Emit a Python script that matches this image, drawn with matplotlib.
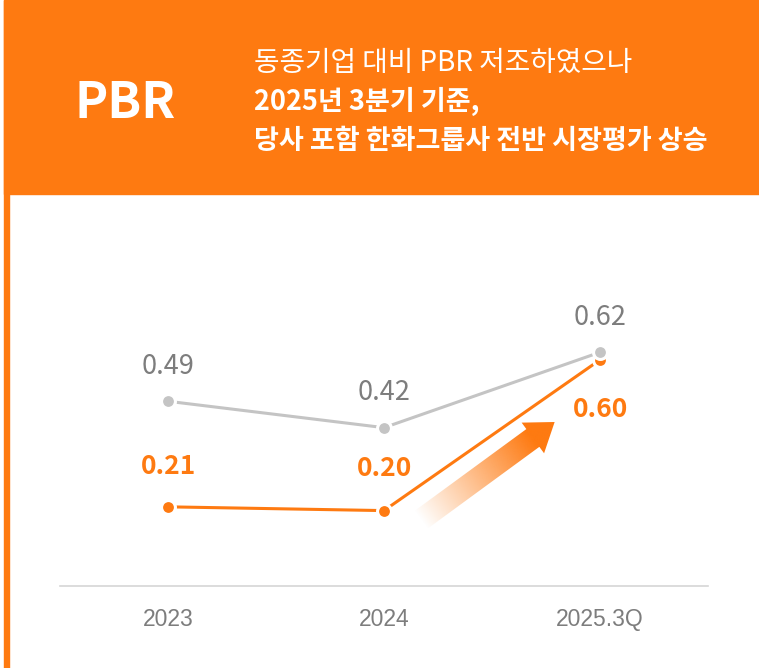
import numpy as np
import matplotlib
matplotlib.use("Agg")
import matplotlib.pyplot as plt
from matplotlib.patches import Rectangle, Polygon
from matplotlib.transforms import IdentityTransform

plt.rcParams['font.family'] = ['Noto Sans CJK KR', 'DejaVu Sans']

# 데이터
categories = ['2023', '2024', '2025.3Q']
peer_pbr = [0.49, 0.42, 0.62]      # 동종기업 (회색)
company_pbr = [0.21, 0.20, 0.60]   # 당사 (주황)

title_big = 'PBR'
subtitle_lines = ['동종기업 대비 PBR 저조하였으나',
                  '2025년 3분기 기준,',
                  '당사 포함 한화그룹사 전반 시장평가 상승']

ORANGE = '#fe7a11'
GRAY = '#c4c4c4'
GRAY_TXT = '#7d7d7d'

W, H = 759, 668
fig = plt.figure(figsize=(W / 100, H / 100), dpi=100)
fig.patch.set_facecolor('white')

# 상단 주황 배너 + 왼쪽 세로 띠
fig.patches.append(Rectangle((4 / W, 1 - 194 / H), 1 - 4 / W, 194 / H,
                             transform=fig.transFigure, color=ORANGE, zorder=0))
fig.patches.append(Rectangle((4 / W, 0), 5 / W, 1, transform=fig.transFigure,
                             color=ORANGE, zorder=0))

fig.text(125 / W, 1 - 118 / H, title_big, color='white', fontsize=36,
         fontweight='bold', ha='center', va='baseline')
baselines = [71, 110, 149]
weights = ['normal', 'bold', 'bold']
sizes = [20, 19.5, 19.5]
for line, yb, wt, fs in zip(subtitle_lines, baselines, weights, sizes):
    fig.text(254 / W, 1 - yb / H, line, color='white', fontsize=fs,
             fontweight=wt, ha='left', va='baseline')

# 차트 영역
ax = fig.add_axes([60 / W, 82 / H, 648 / W, 0.9 * 377 / H])
ax.set_xlim(-0.5, 2.5)
ax.set_ylim(0, 0.9)
ax.patch.set_alpha(0)
for s in ['top', 'right', 'left']:
    ax.spines[s].set_visible(False)
ax.spines['bottom'].set_color('#d6d6d6')
ax.spines['bottom'].set_linewidth(1.2)
ax.set_yticks([])
x = np.arange(len(categories))
ax.set_xticks(x)
ax.set_xticklabels(categories, fontsize=16.5, color=GRAY_TXT,
                   family=['Liberation Sans Narrow', 'Liberation Sans', 'DejaVu Sans'])
ax.tick_params(axis='x', length=0, pad=16)

ax.plot(x, company_pbr, color=ORANGE, lw=2.2, marker='o', markersize=10,
        markerfacecolor=ORANGE, markeredgecolor='white', markeredgewidth=2.2, zorder=3)
ax.plot(x, peer_pbr, color=GRAY, lw=2.2, marker='o', markersize=10,
        markerfacecolor=GRAY, markeredgecolor='white', markeredgewidth=2.2, zorder=4)

for xi, v in zip(x, peer_pbr):
    ax.annotate(f'{v:.2f}', (xi, v), xytext=(0, 25), textcoords='offset points',
                ha='center', va='center', fontsize=19.5, color=GRAY_TXT)
offsets = [29, 30, -36]
for xi, v, off in zip(x, company_pbr, offsets):
    ax.annotate(f'{v:.2f}', (xi, v), xytext=(0, off), textcoords='offset points',
                ha='center', va='center', fontsize=19, color=ORANGE, fontweight='bold')

# 그라데이션 화살표
fig.canvas.draw()
p0 = ax.transData.transform((1.17, 0.175))
p1 = ax.transData.transform((1.79, 0.435))
d = p1 - p0
L = np.hypot(*d)
u = d / L
n = np.array([-u[1], u[0]])
shaft_w, head_w, head_l = 11, 19, 27
base = p1 - u * head_l
pts = [p0 + n * shaft_w, base + n * shaft_w, base + n * head_w, p1,
       base - n * head_w, base - n * shaft_w, p0 - n * shaft_w]
arrow = Polygon(pts, closed=True, transform=IdentityTransform(),
                facecolor='none', edgecolor='none')
ax.add_patch(arrow)

xs = np.array([p[0] for p in pts])
ys = np.array([p[1] for p in pts])
gx = np.linspace(xs.min(), xs.max(), 200)
gy = np.linspace(ys.min(), ys.max(), 200)
GX, GY = np.meshgrid(gx, gy)
t = ((GX - p0[0]) * u[0] + (GY - p0[1]) * u[1]) / L
alpha = np.clip(t * 1.2, 0, 1)
rgb = matplotlib.colors.to_rgb(ORANGE)
img = np.zeros((200, 200, 4))
img[..., 0], img[..., 1], img[..., 2] = rgb
img[..., 3] = alpha
inv = ax.transData.inverted()
(dx0, dy0) = inv.transform((xs.min(), ys.min()))
(dx1, dy1) = inv.transform((xs.max(), ys.max()))
im = ax.imshow(img, extent=[dx0, dx1, dy0, dy1], origin='lower',
               aspect='auto', zorder=2, interpolation='bilinear')
im.set_clip_path(arrow)
ax.set_xlim(-0.5, 2.5)
ax.set_ylim(0, 0.9)

fig.savefig('out.png', dpi=100)
